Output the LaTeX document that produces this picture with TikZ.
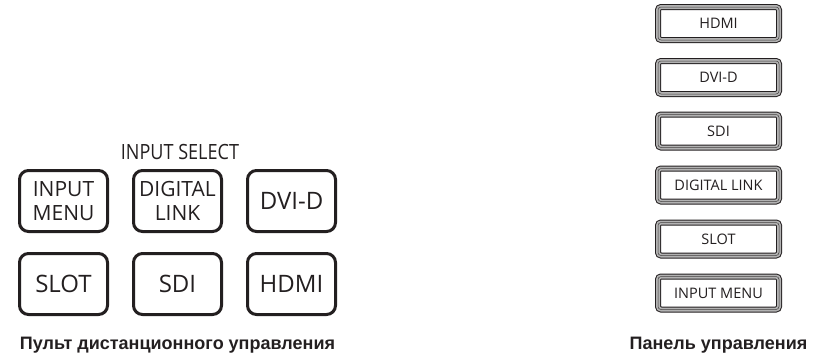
\documentclass[tikz,border=0pt]{standalone}
\usepackage{fontspec}
\setmainfont{Liberation Sans}
\newfontfamily\btnfont{Open Sans}
\newfontfamily\capfont{Liberation Sans}
\definecolor{ink}{HTML}{231F20}
\begin{document}
\begin{tikzpicture}[x=1pt,y=-1pt,
  remote/.style={draw=ink, line width=3pt, rounded corners=9pt, minimum width=88pt, minimum height=61pt,
    inner sep=0pt, text=ink, align=center},
  bigtxt/.style={font=\btnfont\fontsize{24}{26}\selectfont},
  twotxt/.style={font=\btnfont\fontsize{21}{23.5}\selectfont},
  panelbtn/.style={draw=ink, line width=1pt, rounded corners=3pt, double=gray!60, double distance=4pt,
    fill=white, minimum width=121pt, minimum height=33pt, inner sep=0pt, text=ink,
    font=\btnfont\fontsize{14.5}{16}\selectfont,
    postaction={draw=ink!85, line width=0.5pt}},
  caption/.style={font=\capfont\bfseries\fontsize{18}{20}\selectfont, text=ink, anchor=base}]
\useasboundingbox (0,0) rectangle (824,360);
% remote control buttons
\node[remote,twotxt] (inmenu) at (63.5,201) {INPUT\\MENU};
\node[remote,twotxt] (dlink) at (177.5,201) {DIGITAL\\LINK};
\node[remote,bigtxt] (dvid) at (291.5,201) {DVI-D};
\node[remote,bigtxt] (slot) at (63.5,284) {SLOT};
\node[remote,bigtxt] (sdi) at (177.5,284) {SDI};
\node[remote,bigtxt] (hdmi) at (291.5,284) {HDMI};
\node[font=\btnfont\fontsize{21}{22}\selectfont, text=ink, anchor=base] (insel) at (180,159) {\scalebox{0.86}[1]{INPUT SELECT}};
\node[caption] (capl) at (177.5,349) {Пульт дистанционного управления};
% control panel buttons
\node[panelbtn] (phdmi) at (718.5,23.5) {HDMI};
\node[panelbtn] (pdvid) at (718.5,77.5) {DVI-D};
\node[panelbtn] (psdi) at (718.5,131) {SDI};
\node[panelbtn] (pdlink) at (718.5,185) {DIGITAL LINK};
\node[panelbtn] (pslot) at (718.5,239) {SLOT};
\node[panelbtn] (pinmenu) at (718.5,293) {INPUT MENU};
\node[caption] (capr) at (718.5,349) {Панель управления};
\end{tikzpicture}
\end{document}
